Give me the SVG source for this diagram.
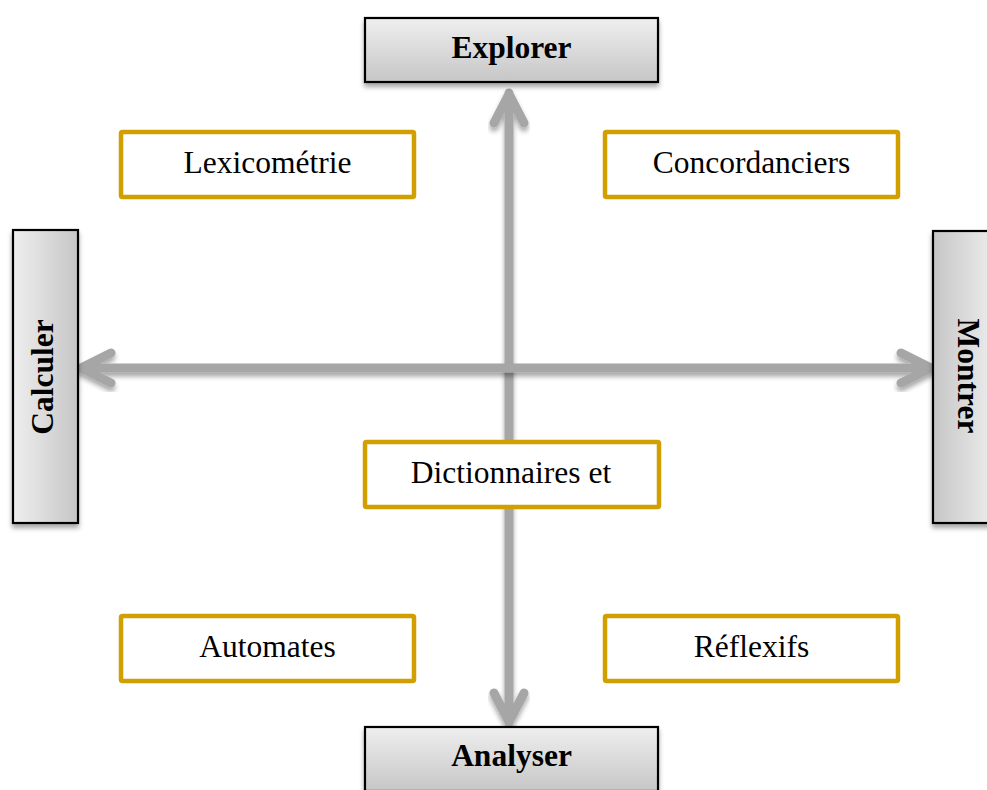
<svg xmlns="http://www.w3.org/2000/svg" width="987" height="790" viewBox="0 0 987 790">
  <defs>
    <linearGradient id="fillV" x1="0" y1="0" x2="0" y2="1">
      <stop offset="0" stop-color="#EFEFEF"/>
      <stop offset="1" stop-color="#C6C6C6"/>
    </linearGradient>
    <linearGradient id="fillL" x1="0" y1="0" x2="1" y2="0">
      <stop offset="0" stop-color="#EFEFEF"/>
      <stop offset="1" stop-color="#C6C6C6"/>
    </linearGradient>
    <linearGradient id="fillR" x1="1" y1="0" x2="0" y2="0">
      <stop offset="0" stop-color="#EFEFEF"/>
      <stop offset="1" stop-color="#C6C6C6"/>
    </linearGradient>
    <filter id="shadow" x="-20%" y="-20%" width="140%" height="150%">
      <feGaussianBlur in="SourceAlpha" stdDeviation="2.5"/>
      <feOffset dx="0" dy="3.5" result="b"/>
      <feComponentTransfer><feFuncA type="linear" slope="0.35"/></feComponentTransfer>
      <feMerge><feMergeNode/><feMergeNode in="SourceGraphic"/></feMerge>
    </filter>
  </defs>
  <style>
    .axis rect { stroke: #000; stroke-width: 2.2; }
    .axis text { font-family: "Liberation Serif", "Times New Roman", serif; font-weight: bold; font-size: 31.5px; fill: #000; text-anchor: middle; }
    .tool rect { fill: #fff; stroke: #D29F00; stroke-width: 4.5; }
    .tool text { font-family: "Liberation Serif", "Times New Roman", serif; font-size: 31.5px; fill: #000; text-anchor: middle; }
    .arrow { fill: none; stroke: #A6A6A6; stroke-width: 9; stroke-linecap: round; stroke-linejoin: round; }
  </style>

  <rect width="987" height="790" fill="#fff"/>

  <!-- connectors: four arrows from the centre of the axes -->
  <g id="connectors">
    <g filter="url(#shadow)">
      <path class="arrow" d="M509,368 V93 M494,123 L509,94 L524,123"/>
      <path class="arrow" d="M509,368 V723 M494,693 L509,722 L524,693"/>
    </g>
    <g filter="url(#shadow)">
      <path class="arrow" d="M509,368 H80 M111,353 L81,368 L111,383"/>
      <path class="arrow" d="M509,368 H932 M901,353 L931,368 L901,383"/>
    </g>
  </g>

  <!-- axis poles -->
  <g id="explorer" class="axis">
    <rect x="365" y="18" width="293" height="64" fill="url(#fillV)" filter="url(#shadow)"/>
    <text x="511.5" y="58">Explorer</text>
  </g>
  <g id="analyser" class="axis">
    <rect x="365" y="727" width="293" height="64" fill="url(#fillV)" filter="url(#shadow)"/>
    <text x="511.5" y="766">Analyser</text>
  </g>
  <g id="calculer" class="axis">
    <rect x="13" y="230" width="65" height="293" fill="url(#fillL)" filter="url(#shadow)"/>
    <text transform="translate(53,377) rotate(-90)">Calculer</text>
  </g>
  <g id="montrer" class="axis">
    <rect x="933" y="231" width="65" height="292" fill="url(#fillR)" filter="url(#shadow)"/>
    <text transform="translate(958,376) rotate(90)">Montrer</text>
  </g>

  <!-- tool families -->
  <g id="lexicometrie" class="tool">
    <rect x="121" y="132" width="293" height="65" rx="1.5"/>
    <text x="267.5" y="173">Lexicométrie</text>
  </g>
  <g id="concordanciers" class="tool">
    <rect x="605" y="132" width="293" height="65" rx="1.5"/>
    <text x="751.5" y="173">Concordanciers</text>
  </g>
  <g id="dictionnaires" class="tool">
    <rect x="365" y="442" width="294" height="65" rx="1.5"/>
    <text x="511" y="483">Dictionnaires et</text>
  </g>
  <g id="automates" class="tool">
    <rect x="121" y="616" width="293" height="65" rx="1.5"/>
    <text x="267.5" y="657">Automates</text>
  </g>
  <g id="reflexifs" class="tool">
    <rect x="605" y="616" width="293" height="65" rx="1.5"/>
    <text x="751.5" y="657">Réflexifs</text>
  </g>
</svg>
